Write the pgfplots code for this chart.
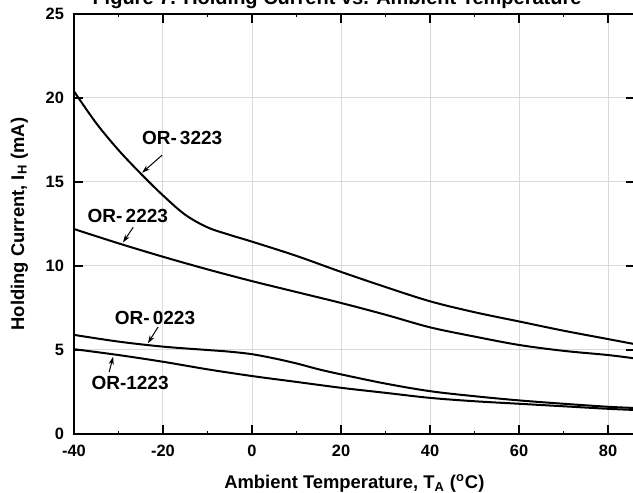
\documentclass[border=0pt]{standalone}
\usepackage{pgfplots}
\pgfplotsset{compat=1.18}
\usepackage{fontspec}
\setmainfont{Liberation Sans}
\usetikzlibrary{arrows.meta,calc}

\begin{document}
\begin{tikzpicture}
\begin{axis}[
    name=ax,
    scale only axis,
    width=280.35pt, height=210pt,
    xmin=-40, xmax=86, ymin=0, ymax=25,
    xtick={-40,-20,0,20,40,60,80},
    ytick={0,5,10,15,20,25},
    minor x tick num=1,
    grid=major, grid style={gray!30, line width=0.5pt},
    axis line style={line width=0.8pt},
    major tick length=4.5pt, minor tick length=1.5pt,
    tick style={black, line width=0.6pt},
    tick label style={font=\fontsize{8.2}{9}\selectfont\bfseries},
    xticklabel style={yshift=-2pt},
    yticklabel style={xshift=-1.5pt},
    /pgf/number format/assume math mode=true,
    label style={font=\fontsize{9.2}{10}\selectfont\bfseries},
    xlabel={Ambient Temperature, T\textsubscript{A} (\textsuperscript{o}C)},
    ylabel={Holding Current, I\textsubscript{H} (mA)},
    xlabel style={yshift=-2pt},
    ylabel style={yshift=2pt},
    curve/.style={black, no marks, line width=1pt, smooth, tension=0.55},
]
% OR-3223
\addplot[curve] coordinates {(-40,20.4) (-35,18.5) (-30,16.9) (-25,15.5) (-20,14.2) (-15,13.05) (-10,12.3) (-5,11.85) (0,11.45) (10,10.6) (20,9.65) (30,8.75) (40,7.9) (50,7.25) (60,6.7) (70,6.15) (80,5.65) (86,5.35)};
% OR-2223
\addplot[curve] coordinates {(-40,12.2) (-30,11.35) (-20,10.55) (-10,9.8) (0,9.1) (10,8.45) (20,7.8) (30,7.1) (40,6.35) (50,5.8) (60,5.3) (70,4.95) (80,4.7) (86,4.5)};
% OR-0223
\addplot[curve] coordinates {(-40,5.9) (-30,5.5) (-20,5.2) (-10,5.0) (-5,4.9) (0,4.75) (5,4.5) (10,4.2) (15,3.85) (20,3.55) (30,3.0) (40,2.55) (50,2.25) (60,2.0) (70,1.8) (80,1.62) (86,1.55)};
% OR-1223
\addplot[curve] coordinates {(-40,5.05) (-30,4.7) (-20,4.3) (-10,3.85) (0,3.45) (10,3.1) (20,2.75) (30,2.45) (40,2.15) (50,1.95) (60,1.8) (70,1.65) (80,1.5) (86,1.43)};

\tikzset{lbl/.style={font=\fontsize{9.5}{10}\selectfont\bfseries}, arr/.style={-{Stealth[length=4pt,width=2.6pt]}, line width=0.5pt}}
\node[lbl] at (axis cs:-15.7,17.6) {OR-\,3223};
\draw[arr] (axis cs:-20.2,16.6) -- (axis cs:-24.7,15.55);
\node[lbl] at (axis cs:-27.9,13.0) {OR-\,2223};
\draw[arr] (axis cs:-26.7,12.3) -- (axis cs:-29,11.4);
\node[lbl] at (axis cs:-21.8,6.9) {OR-\,0223};
\draw[arr] (axis cs:-21.1,6.37) -- (axis cs:-23.4,5.4);
\node[lbl] at (axis cs:-27.4,3.04) {OR-1223};
\draw[arr] (axis cs:-32.1,3.69) -- (axis cs:-31.2,4.6);
\end{axis}
\node[font=\fontsize{10}{12}\selectfont\bfseries, anchor=base] at ($(ax.north west)+(131.5pt,4.5pt)$) {Figure 7. Holding Current vs. Ambient Temperature};
\pgfresetboundingbox
\useasboundingbox ($(ax.south west)+(-37pt,-29.5pt)$) rectangle ($(ax.north west)+(279.5pt,7pt)$);
\end{tikzpicture}
\end{document}
